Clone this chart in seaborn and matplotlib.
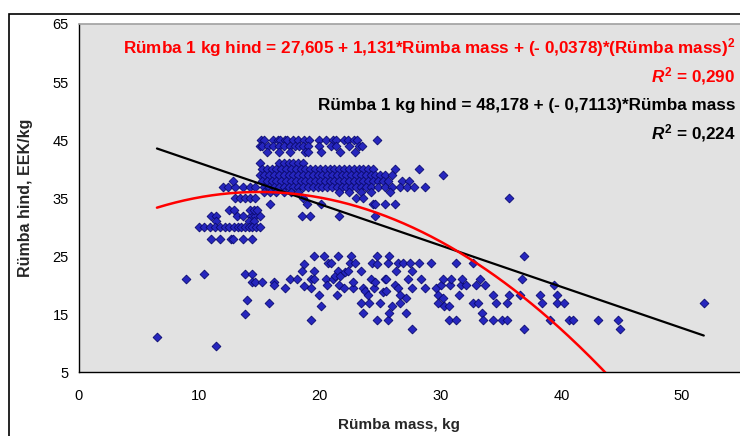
import matplotlib
matplotlib.use("Agg")
import matplotlib.pyplot as plt
import seaborn as sns
import numpy as np
import pandas as pd
from matplotlib.patches import Rectangle

# ---------------- data ----------------
# dense upper block: price rows and the masses observed in each row
upper_prices = [45, 44, 43, 41, 40, 39, 38, 37, 36, 35, 34, 32]
upper_masses = [
    [15.1, 15.4, 16.1, 16.5, 16.7, 17.1, 17.3, 17.8, 18.2, 18.7, 19.1, 19.9, 20.5, 21.1, 21.3, 22.0, 22.3, 22.8, 23.1, 24.7],
    [15.0, 15.2, 15.7, 16.1, 16.6, 17.0, 17.5, 17.9, 18.3, 18.6, 19.0, 19.9, 20.9, 21.3, 22.4, 23.2, 23.5],
    [15.6, 16.6, 17.5, 18.8, 19.0, 20.1, 21.7, 22.9],
    [15.0, 16.6, 17.0, 17.4, 17.8, 18.2, 18.6],
    [15.2, 15.6, 16.0, 16.4, 16.8, 17.2, 17.6, 18.0, 18.4, 18.8, 19.2, 19.6, 20.0, 20.4, 20.8, 21.2,
     21.6, 22.0, 22.4, 22.8, 23.2, 23.6, 24.0, 24.4, 26.2, 28.2],
    [15.0, 15.4, 15.8, 16.2, 16.6, 17.0, 17.4, 17.8, 18.2, 18.6, 19.0, 19.4, 19.8, 20.2, 20.6, 21.0,
     21.4, 21.8, 22.2, 22.6, 23.0, 23.4, 23.8, 24.2, 24.6, 25.0, 25.4, 26.0, 30.2],
    [15.2, 15.6, 16.0, 16.4, 16.8, 17.2, 17.6, 18.0, 18.4, 18.8, 19.2, 19.6, 20.0, 20.4, 20.8, 21.2,
     21.6, 22.0, 22.4, 22.8, 23.2, 23.6, 24.0, 24.4, 24.8, 25.2, 25.6, 26.8, 27.4],
    [12.0, 12.4, 13.0, 13.6, 14.2, 14.6, 15.4, 15.8, 16.2, 16.6, 17.0, 17.4, 17.8, 18.2, 18.6, 19.0,
     19.4, 19.8, 20.2, 20.6, 21.0, 21.4, 21.8, 22.2, 22.6, 23.0, 23.4, 23.8, 24.2, 24.8, 25.4, 26.0,
     26.6, 27.2, 27.8, 28.7],
    [15.4, 15.9, 16.4, 17.0, 17.6, 18.2, 21.6, 22.4, 23.4, 24.2, 25.8],
    [13.0, 13.4, 13.8, 14.2, 14.6, 18.6, 23.0, 23.6, 35.7],
    [15.9, 18.9, 20.1, 24.4, 24.6, 25.4, 26.2],
    [11.0, 11.4, 13.1, 13.6, 14.3, 14.6, 15.0, 18.5, 19.2, 21.6, 24.6],
]

# left block (small animals)
left_mass = [12.8, 12.5, 12.9, 14.2, 14.5, 14.8, 11.4, 14.1, 14.5,
             10.0, 10.4, 10.9, 11.3, 11.7, 12.1, 12.5, 12.9, 13.2, 13.5, 13.8, 14.1, 14.4, 14.7, 15.0,
             11.0, 11.7, 12.6, 12.8, 13.6, 14.4]
left_price = [38, 33, 33, 33, 33, 33, 31, 31, 31,
              30, 30, 30, 30, 30, 30, 30, 30, 30, 30, 30, 30, 30, 30, 30,
              28, 28, 28, 28, 28, 28]

# lower scattered block
low_mass = [6.5, 8.9, 10.4, 11.4, 13.8, 14.4, 13.8, 14.0, 14.4, 14.6, 15.2, 15.8, 16.2, 16.2, 17.1, 17.5,
            18.1, 18.5, 18.7, 18.7, 19.3, 19.3, 19.3, 19.5, 19.5, 19.5, 19.9, 20.1, 20.3, 20.5, 20.6,
            20.7, 20.9, 21.1, 21.25, 21.4, 21.5, 21.5, 21.6, 21.7, 22.0, 22.1, 22.3, 22.5, 22.6, 22.7,
            22.7, 22.9, 23.4, 23.4, 23.6, 23.6, 23.75, 23.95, 24.1, 24.2, 24.3, 24.5, 24.6, 24.7, 24.7,
            24.7, 25.0, 25.2, 25.4, 25.5, 25.5, 25.6, 25.7, 25.6, 25.7, 26.0, 26.2, 26.3, 26.5, 26.5,
            26.6, 26.6, 26.9, 27.1, 27.1, 27.3, 27.5, 27.6, 27.6, 27.6, 28.2, 28.4, 28.7, 29.2, 29.6,
            29.8, 29.8, 30.0, 30.2, 30.2, 30.3, 30.7, 30.7, 30.8, 30.9, 31.3, 31.3, 31.5, 31.7, 31.8,
            32.1, 32.7, 32.7, 32.9, 33.1, 33.3, 33.4, 33.5, 33.7, 34.3, 34.3, 34.6, 35.1, 35.5, 35.5,
            35.7, 36.7, 36.6, 36.9, 36.9, 38.2, 38.4, 39.1, 39.4, 39.6, 39.6, 40.2, 40.6, 41.0, 43.0,
            44.7, 44.9, 51.8]
low_price = [11.0, 21.1, 22.0, 9.5, 22.0, 22.0, 15.0, 17.5, 20.5, 20.5, 20.5, 16.9, 20.5, 20.0, 19.6, 21.0,
             21.0, 22.4, 23.6, 19.9, 21.0, 19.6, 14.0, 25.0, 22.4, 21.0, 18.4, 16.5, 25.0, 21.0, 20.0,
             23.9, 23.9, 21.0, 21.6, 18.4, 25.0, 22.4, 20.0, 21.6, 19.6, 22.3, 22.4, 23.9, 25.0, 19.6,
             20.5, 23.9, 22.4, 16.9, 15.3, 19.6, 19.0, 18.4, 16.9, 21.0, 23.9, 19.6, 20.5, 23.6, 25.0,
             14.0, 16.9, 18.8, 21.0, 21.0, 19.0, 23.9, 25.0, 14.0, 15.3, 16.5, 20.0, 22.4, 23.9, 19.6,
             18.4, 16.9, 23.9, 17.8, 15.3, 21.0, 23.9, 22.4, 19.6, 12.5, 23.9, 21.0, 19.6, 23.9, 19.6,
             18.4, 16.9, 20.0, 21.0, 17.8, 16.5, 16.5, 14.0, 20.0, 21.0, 23.9, 14.0, 18.4, 20.0, 21.0,
             20.0, 16.9, 23.9, 20.0, 16.9, 21.0, 15.3, 14.0, 20.0, 18.4, 14.0, 16.9, 14.0, 14.0, 16.9,
             18.4, 21.0, 18.4, 25.0, 12.5, 18.4, 16.9, 14.0, 20.0, 18.4, 16.9, 16.9, 14.0, 14.0, 14.0,
             14.0, 12.5, 16.9]

# fitted trend lines as reported on the chart
lin_coef = [48.178, -0.7113]          # intercept, slope
quad_coef = [27.605, 1.131, -0.0378]  # c0, c1, c2
fit_x_range = [6.5, 51.8]

eq_quad = "Rümba 1 kg hind = 27,605 + 1,131*Rümba mass + (- 0,0378)*(Rümba mass)$^{2}$"
r2_quad = "$\\mathit{R}^{2}$ = 0,290"
eq_lin = "Rümba 1 kg hind = 48,178 + (- 0,7113)*Rümba mass"
r2_lin = "$\\mathit{R}^{2}$ = 0,224"

# ---------------- build frame ----------------
mass_all, price_all = [], []
for p, ms in zip(upper_prices, upper_masses):
    mass_all += ms
    price_all += [p] * len(ms)
mass_all += left_mass + low_mass
price_all += left_price + low_price
df = pd.DataFrame({"mass": mass_all, "price": price_all})

# ---------------- plot ----------------
sns.set_theme(style="white")
plt.rcParams["font.family"] = ["Liberation Sans", "DejaVu Sans"]
plt.rcParams["mathtext.fontset"] = "custom"
plt.rcParams["mathtext.rm"] = "Liberation Sans:bold"
plt.rcParams["mathtext.it"] = "Liberation Sans:bold:italic"
plt.rcParams["mathtext.bf"] = "Liberation Sans:bold"

fig = plt.figure(figsize=(7.4, 4.36), dpi=100)
ax = fig.add_axes([78.5 / 740, 1 - 372.3 / 436, 1 - 78.5 / 740, (372.3 - 24) / 436])
ax.set_facecolor("#E2E2E2")

sns.scatterplot(data=df, x="mass", y="price", ax=ax, marker="D", s=20,
                color="#2626BE", edgecolor="#0A0A70", linewidth=0.6, zorder=3)

xx = np.linspace(fit_x_range[0], fit_x_range[1], 300)
sns.lineplot(x=xx, y=lin_coef[0] + lin_coef[1] * xx, ax=ax, color="black", linewidth=1.6, zorder=4)
sns.lineplot(x=xx, y=quad_coef[0] + quad_coef[1] * xx + quad_coef[2] * xx ** 2, ax=ax,
             color="#FF0000", linewidth=1.8, zorder=4)

ax.set_xlim(0, 54.8)
ax.set_ylim(5, 65)
ax.set_xticks([0, 10, 20, 30, 40, 50])
ax.set_yticks([5, 15, 25, 35, 45, 55, 65])
ax.tick_params(axis="both", direction="out", length=4, width=1, color="black",
               labelsize=10.5, labelcolor="black", pad=3)
ax.tick_params(axis="x", pad=8)
for s in ["left", "bottom"]:
    ax.spines[s].set_color("black")
    ax.spines[s].set_linewidth(1.0)
ax.spines["top"].set_color("#A0A0A0")
ax.spines["top"].set_linewidth(1.2)
ax.spines["right"].set_visible(False)

ax.set_xlabel("Rümba mass, kg", fontsize=11, fontweight="bold")
ax.xaxis.set_label_coords((399 - 78.5) / (740 - 78.5), -(425 - 372.3) / (372.3 - 24))
ax.xaxis.label.set_va("center")
ax.set_ylabel("Rümba hind, EEK/kg", fontsize=11.5, fontweight="bold", labelpad=14)

tx = 0.993
kw = dict(transform=ax.get_yaxis_transform(), ha="right", va="center", fontsize=12.3, fontweight="bold")
ax.text(tx, 60.9, eq_quad, color="#FF0000", **kw)
ax.text(tx, 56.0, r2_quad, color="#FF0000", **kw)
ax.text(tx, 51.0, eq_lin, color="black", **kw)
ax.text(tx, 46.3, r2_lin, color="black", **kw)

fig.patches.append(Rectangle((9 / 740, -0.1), 1.2, (436 - 14) / 436 + 0.1, transform=fig.transFigure,
                             fill=False, edgecolor="black", linewidth=1.2, zorder=10))

fig.savefig("out.png", dpi=100)
